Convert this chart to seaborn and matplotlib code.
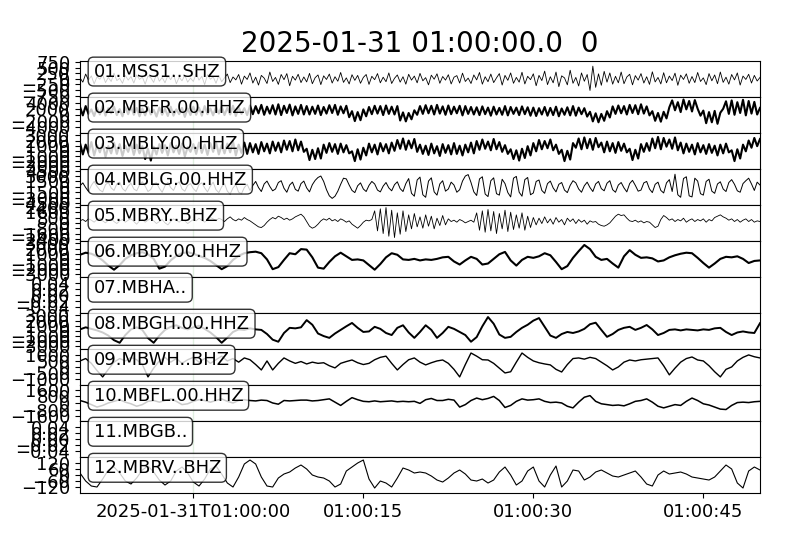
import numpy as np
import pandas as pd
import seaborn as sns
import matplotlib.pyplot as plt
from matplotlib.ticker import MaxNLocator

# ------------------- data (counts) -------------------
title_text = "2025-01-31 01:00:00.0  0"
trace_ids = ["01.MSS1..SHZ", "02.MBFR.00.HHZ", "03.MBLY.00.HHZ", "04.MBLG.00.HHZ",
             "05.MBRY..BHZ", "06.MBBY.00.HHZ", "07.MBHA..", "08.MBGH.00.HHZ",
             "09.MBWH..BHZ", "10.MBFL.00.HHZ", "11.MBGB..", "12.MBRV..BHZ"]

# window -10 s .. +50 s around 01:00:00
t_start, t_end = -10, 50
xtick_sec = [0, 15, 30, 45]
xtick_labels = ["2025-01-31T01:00:00", "01:00:15", "01:00:30", "01:00:45"]

# y range of each panel
y_half = [800, 6000, 3500, 5000, 2700, 3500, 0.06, 3500, 1500, 2200, 0.06, 180]

# 0.25 s steps
mss1 = [40, -150, 210, -60, 130, -230, 90, -20, 180, -170, 60, -120, 250, -80, 20, -200, 150, -60, 100, -190,
        170, -30, 80, -240, 130, 40, -160, 220, -110, 60, -180, 140, -40, 200, -220, 70, -90, 160, -150, 30,
        -120, 230, -60, 110, -260, 180, -20, 90, -200, 150, -130, 40, 210, -170, 80, -50, 190, -240, 120, -30,
        260, -190, 70, -280, 150, 30, -210, 300, -120, 60, -250, 190, -40, 230, -310, 110, -60, 200, -170, 80,
        -140, 240, -220, 50, 170, -260, 130, -30, 210, -190, 90, -110, 280, -160, 40, -230, 180, -70, 150, -200,
        60, 190, -250, 110, -40, 230, -180, 70, -130, 260, -210, 20, 170, -150, 90, -240, 200, -60, 120, -180,
        240, -90, 50, -270, 160, -20, 220, -200, 100, -60, 180, -230, 70, 140, -190, 250, -120, 30, -210, 170,
        -50, 280, -240, 90, -130, 210, -170, 40, 230, -280, 150, -70, 260, -200, 60, -150, 290, -230, 110, -40,
        220, -310, 150, -80, 340, -260, 90, -180, 300, -350, 130, 40, -270, 380, -200, 60, -320, 260, -110, 190,
        -520, 560, -380, 220, -290, 330, -150, 260, -240, 110, -180, 300, -220, 80, 200, -270, 140, -60, 230, -190,
        90, -250, 310, -140, 60, -230, 270, -180, 120, -80, 250, -290, 160, -30, 220, -200, 100, -170, 280, -120,
        40, -260, 230, -90, 170, -220, 300, -160, 70, -240, 190, -50, 260, -280, 120, -30, 200, -190, 150, -100,
        60]

mbfr = [2600, -200, 2900, 300, 1800, -400, 2400, 100, 3000, -300, 2200, 500, 2700, -100, 1900, -500, 2500, 200, 2800, 0,
        2300, -500, 2100, -200, 2600, 100, 1700, -600, 2400, 0, 2000, -400, 2700, -300, 1800, 200, 2300, -700, 2100, -100,
        2700, 0, 2400, -300, 2900, 200, 2100, -200, 2600, 400, 2800, -100, 2300, 100, 3000, -400, 2500, 300, 2200, -100,
        3100, 200, 2900, 500, 3300, 0, 2700, 400, 3200, 100, 3500, -100, 3000, 600, 3400, -200, 2800, 300, 3300, 100,
        2900, 100, 2700, 300, 3100, -100, 2600, 400, 3200, 600, 3300, 0, 2800, 500, 3000, -800, 1200, -2100, 900, -1800,
        1800, -500, 2600, 200, 3000, 400, 2900, -100, 3100, 300, 2700, 100, 2900, -1900, 800, -2200, 600, -1500, 1500, 0,
        2900, 300, 3200, 500, 3000, 100, 3300, 400, 2800, 0, 3100, 200, 2700, 500, 3000, -200, 2900, 300, 2600, 100,
        2500, -100, 2800, 200, 2400, -300, 2700, 100, 2300, 0, 2900, -200, 2600, 300, 2400, -100, 2800, 200, 2500, -300,
        2400, -400, 2200, 100, 2600, -300, 2300, -100, 2700, -500, 2100, 0, 2500, -200, 2900, -300, 2400, 200, 2200, -600,
        1000, -2200, 500, -2500, 300, -2000, 1200, -900, 2800, 300, 3100, 500, 2900, 100, 3300, 600, 3200, 200, 3500, 400,
        2800, -200, 1200, -2000, 600, -2300, 1000, -1200, 2500, 4800, 1500, 4200, 900, 5100, 1800, 4600, 1100, 4900, 2000, -300,
        1400, -2800, 900, -2500, 1300, -3000, 700, 2000, 4500, 300, 4800, 0, 4200, 600, 5000, -200, 4600, 400, 4300, 100,
        2300]

mbly = [1500, -700, 1200, -400, 1700, -900, 1100, -300, 1400, -1200, 900, -500, 1600, -600, 1300, -1000, 1000, -200, 1500, -800,
        1200, -500, 900, -1600, 400, -1900, 800, -700, 1300, -400, 1100, -900, 1500, -300, 1000, -600, 1400, -1100, 700, -200,
        1300, -600, 1600, -400, 1200, -800, 1500, -200, 1700, -700, 1100, -500, 1400, -300, 1800, -900, 1200, -400, 1600, -600,
        1500, -300, 1300, -600, 1700, -100, 1400, -500, 1800, 0, 1600, -300, 2000, 200, 1900, -100, 2200, 100, 1800, -200,
        400, -1800, 200, -1600, 500, -1500, 1200, -400, 1500, -200, 1300, -600, 1400, -300, 1100, -500, -100, -2000, 300, -1700,
        600, -900, 1400, -300, 1200, -700, 1500, -100, 1300, -500, 1600, 0, 2100, 400, 2400, 200, 2000, 500, 2300, -200,
        1200, -600, 1000, -800, 1400, -500, 900, -1000, 1300, -400, 1100, -700, 1500, -600, 1000, -900, 1200, -300, 1600, -500,
        1900, 200, 2200, 400, 1800, 100, 2300, 300, 1700, -200, 1100, -600, 300, -1600, 100, -1900, 400, -1400, 900, -900,
        1500, -100, 2100, 300, 1900, 500, 2200, 100, 1200, -600, 200, -2000, 0, -1700, 1500, 600, 2400, 300, 2600, 500,
        2300, 200, 2500, 700, 1600, -300, 1800, -100, 1500, -400, 1700, 0, 1400, -300, 400, -1800, 200, -1500, 1300, -200,
        1500, 0, 2400, 500, 2700, 300, 2500, 800, 2200, 400, 2600, 100, 1600, -500, 1400, -200, 1200, -700, 1500, -300,
        1100, -600, 1300, -400, 1000, -900, 1200, -500, 1400, -300, 100, -2000, 300, -1500, 1200, -100, 2000, 600, 2500, 900,
        2300]

mblg = [300, 1100, -200, -1300, 400, 1500, 100, -900, -1400, 600, 1200, -300, -1000, 800, 1300, -500, -1200, 200, 1000, -600,
        -1100, 500, 1400, 200, -1300, -700, 900, 1100, -400, -1500, 300, 1200, -200, -1000, 700, 1400, -600, -1200, 400, 900,
        -500, -1300, 600, 1100, -300, -1400, 200, 1300, -800, -1600, 0, 900, -1200, -2000, -300, 600, -1500, -1900, -200, 700,
        -1000, 400, 1500, -200, -1300, 800, 1600, 100, -1100, -600, 1200, 1700, -400, -1500, 500, 1300, -700, -1200, 900, 1600,
        -300, -1400, 600, 1800, 2600, 3000, 1500, -800, -2500, -3200, -2600, -1200, 700, 2400, 2200, 500, -1000, -1600, 300, 1100,
        -600, -1300, 400, 1500, 800, -900, -1400, 200, 1200, -300, -1100, 600, 1400, -500, -1300, 900, 2300, -1800, -2600, 1900,
        2700, -2200, -2900, 1600, 2500, -1400, -2300, 800, 1700, -1200, -600, 1300, 500, -1500, -800, 1600, 3000, 3400, 1200, -1400,
        -2400, 2200, 2800, -2000, -2700, 1700, 2500, -1900, -2300, 2100, 900, -1600, -2800, 2400, 2900, -1500, -2600, 2000, 2600, -2200,
        -1700, 1500, 1900, -1000, -1800, 900, 1600, -300, -1400, 700, 1200, -900, -1600, 400, 1700, 1100, -600, -1500, 300, 1300,
        -200, -1300, 800, 1500, -500, -1100, 1000, 1700, -800, -1500, 500, 1200, -300, -1400, 900, 1800, 400, -1200, -900, 1100,
        1500, -600, -1600, 700, 1300, -1000, -1700, 1100, 2000, -1300, 3500, -2200, -2900, 2300, 2800, -2500, -2800, 2400, 1600, -1900,
        -2300, 1500, 2100, -1200, -1800, 800, 1400, -600, -1300, 1200, 2000, 700, -1100, -1500, 900, 1700, 2400, 800, -1000, 1300,
        500]

mbry = [300, 500, 200, 600, 400, 100, 500, 700, 300, 0, 400, 600, 200, -100, 300, 500, 100, 400, 600, 200,
        -200, 300, 500, 100, 400, 700, 300, -100, 200, 500, 0, -300, 200, 600, 400, 100, 500, 300, -100, 200,
        500, 300, 700, 400, 100, 500, 800, 600, 300, 700, 500, 200, 600, 900, 500, 300, 600, 400, 800, 500,
        300, 0, -300, -600, -700, -400, 100, 500, 800, 600, 1000, 800, 500, 700, 400, 600, 900, 1100, 1300, 900,
        200, -500, -800, -600, -200, 300, 600, 400, 700, 300, 500, 200, 600, 400, 100, 300, -200, -500, -800, -400,
        100, 400, 300, 500, 1800, -1200, 2100, -1600, 2300, -2000, 1900, -2200, 1500, -1700, 1800, -1300, 1200, -900, 1400, -600,
        900, -800, 1200, -500, 1000, -900, 700, -400, 1100, -300, 600, 200, 400, 100, 500, 300, 0, 200, 400, 100,
        1500, -1100, 1800, -1400, 2000, -1200, 1700, -1600, 1400, -900, 1900, -1300, 1600, -1000, 1200, -800, 1500, -1100, 1000, -700,
        800, -300, 700, -100, 900, 0, 600, -200, 800, 100, 500, -300, 700, 200, 600, -100, 500, 100, 400, -200,
        300, 100, 200, -200, -400, -500, -300, 0, 500, 1000, 1300, 1100, 1200, 700, 300, 200, 400, 100, 300, 0,
        200, 100, -300, -700, -500, 500, 1100, 800, 400, 600, 200, 500, 300, 700, 100, 400, 600, 200, 500, 300,
        600, 100, 500, 300, 800, 1000, 1200, 900, 700, 400, 600, 200, 500, 100, 400, 600, 200, 500, 100, 300,
        200]

# 0.5 s steps
mbby = [800, 1200, 1000, 500, -300, -1300, -2100, -1200, 0, 700,
        1100, 1300, 900, 0, -1900, -1500, -300, 600, 1100, 1300,
        1000, 600, 200, -400, -1200, -2000, -1400, -200, 600, 1100,
        1300, 1400, 1100, -100, -2000, -1600, -200, 1100, 900, 1900,
        1800, 300, -1700, -1900, -600, 500, 1200, 500, -200, -100,
        -300, -1200, -2100, -1000, 300, 1100, 800, -100, -200, 0,
        -300, -100, -200, 0, 300, 400, -500, -1100, -300, 400,
        0, -1100, -900, 0, 900, 1350, -300, -1300, -200, 400,
        200, 500, 1100, 700, -600, -2000, -1400, 200, 1500, 2700,
        1900, 400, -200, 0, -900, -1700, 500, 1700, 800, 200,
        300, 100, -500, -300, 300, 700, 1000, 1200, 1100, 200,
        -800, -1700, -900, 0, 400, 300, 500, 0, -800, -400,
        -300]

mbha = []

mbgh = [300, 700, 400, 100, -300, -900, -1800, -2300, -800, 300,
        700, 200, -1400, -2300, -900, 200, 800, 1100, 600, 300,
        700, 1000, 400, -300, -1200, -2300, -1300, -200, 300, 200,
        500, 300, 200, -600, -1700, -2100, -400, 600, 500, 700,
        2100, 1200, -500, -1000, -1350, -500, 200, 900, 1550, 600,
        -200, -100, 800, 400, -400, -800, 600, 1100, -300, -1350,
        -200, 1100, 200, -1350, -400, 800, 400, -200, -800, -2100,
        -1200, 900, 2700, 1400, -700, -1350, -1150, -200, 600, 1200,
        2000, 2500, 800, -900, -1350, -600, -200, -400, -100, 400,
        1300, 1600, 200, -1150, -600, 200, 600, 800, 200, 600,
        1150, 300, -800, -400, 200, 300, 100, 300, 200, 100,
        300, 200, 500, 600, -200, -800, -300, -100, -300, -400,
        1500]

mbwh = [500, 700, 300, -300, -830, -200, 400, 700, 500, 800,
        600, 200, -830, -100, 500, 800, 400, 700, 300, 600,
        800, 400, 700, 300, 600, 900, 500, 700, 400, 750,
        600, 200, -250, 500, -250, 300, 750, 500, 300, 450,
        250, 400, 300, 350, 100, -80, 300, 450, 580, 350,
        200, 300, 600, 800, 900, 300, -250, 200, 600, 750,
        400, 170, 350, 500, 580, 300, -200, -830, 200, 1160,
        900, 600, 580, 300, -100, -500, -400, 400, 1160, 800,
        500, 350, 250, 170, -200, -420, 200, 700, 750, 650,
        800, 700, 400, 100, -250, 0, 400, 580, 500, 600,
        650, 700, 750, 100, -660, -100, 400, 700, 830, 580,
        500, 100, -400, -830, -200, 0, 500, 800, 1000, 850,
        750]

mbfl = [300, 100, -200, -500, -300, 0, 200, 400, 100, -100,
        -400, -200, 200, 300, 100, 300, 500, 200, -200, -100,
        200, 400, 300, 100, 300, 500, 200, 0, 300, 400,
        300, 250, 350, 300, 0, -150, 300, 250, 300, 350,
        350, 250, 300, 400, 500, 100, -300, 200, 650, 400,
        200, 150, 250, 150, 200, 250, 150, 200, 150, 200,
        -50, 400, 550, 300, 300, 450, 350, -500, -200, 300,
        600, 400, 550, 800, 300, -550, -300, 200, 500, 350,
        400, 500, 200, 50, 100, 0, -400, -600, 100, 700,
        900, 200, -100, -200, -300, -250, -350, -100, 200, 300,
        500, 100, -400, -600, -400, -200, -300, 200, 600, 300,
        -100, -250, -500, -750, -800, -300, 50, 100, 50, 150,
        200]

mbgb = []

mbrv = [20, -60, -110, -120, -40, 50, 80, 20, -60, -90,
        -30, 50, 90, 30, -50, -100, -60, 40, 80, 20,
        -70, -110, -40, 60, 90, 10, -80, -120, -20, 110,
        150, 110, -20, -110, -120, -30, 10, 30, 70, 100,
        60, 0, -20, -30, -60, -120, -90, 40, 80, 120,
        150, -40, -130, -60, -80, -120, -30, 70, 50, 20,
        30, 20, -10, -50, -70, -30, 20, 50, 10, -50,
        -60, -40, -80, -50, 30, 80, 0, -100, -60, 40,
        80, -60, -120, 0, 90, -120, -60, 50, 40, -50,
        -20, 30, 50, 20, -10, -20, 0, 20, 40, -20,
        -90, -110, 0, 40, 10, 20, 30, 10, -20, -30,
        -40, -50, -20, 40, 100, 60, -80, -130, 40, 80,
        50]

traces = [mss1, mbfr, mbly, mblg, mbry, mbby, mbha, mbgh, mbwh, mbfl, mbgb, mbrv]
line_w = [0.6, 1.5, 1.5, 0.7, 0.6, 1.5, 0, 1.4, 1.0, 1.1, 0, 0.8]

# ------------------- plot -------------------
plt.rcParams["xtick.labelsize"] = 13
plt.rcParams["ytick.labelsize"] = 13

fig, axes = plt.subplots(len(traces), 1, sharex=True, figsize=(8, 5.33), dpi=100)
fig.subplots_adjust(left=0.1, right=0.95, top=0.886, bottom=0.075, hspace=0)

for i, ax in enumerate(axes):
    vals = traces[i]
    if len(vals) > 0:
        df = pd.DataFrame({"t": np.linspace(t_start, t_end, len(vals)), "v": vals})
        sns.lineplot(data=df, x="t", y="v", ax=ax, color="k", lw=line_w[i],
                     estimator=None, sort=False, legend=False)
    # pick marker at 01:00:00
    ax.axvline(0, color="g", alpha=0.12, lw=1)
    ax.set_ylim(-y_half[i], y_half[i])
    ax.yaxis.set_major_locator(MaxNLocator(7, prune="both"))
    ax.set_xlabel("")
    ax.set_ylabel("")
    ax.text(0.02, 0.95, trace_ids[i], transform=ax.transAxes, fontsize=13,
            ha="left", va="top", bbox=dict(boxstyle="round", fc="w", alpha=0.8))

axes[0].set_title(title_text, fontsize=20)
axes[-1].set_xlim(t_start, t_end)
axes[-1].set_xticks(xtick_sec)
axes[-1].set_xticklabels(xtick_labels)

fig.savefig("out.png", dpi=100)
